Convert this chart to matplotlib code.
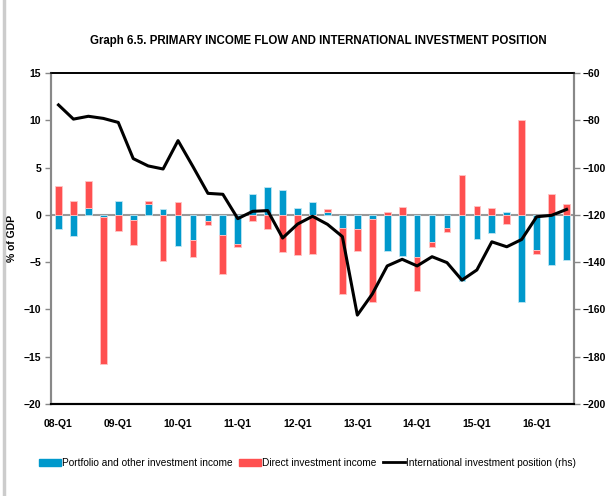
import matplotlib.pyplot as plt
import numpy as np
from matplotlib.lines import Line2D
from matplotlib.patches import Patch

plt.rcParams['font.family'] = ['DejaVu Sans Condensed', 'Liberation Sans Narrow', 'Liberation Sans']

years = ["08", "09", "10", "11", "12", "13", "14", "15", "16"]
quarters = [f"{y}-Q{q}" for y in years for q in range(1, 5)][:35]

portfolio = [-1.5, -2.2, 0.7, -0.2, 1.5, -0.5, 1.2, 0.6, -3.25,
             -2.7, -0.65, -2.1, -3.1, 2.2, 2.9, 2.6, 0.7,
             1.4, 0.3, -1.35, -1.5, -0.4, -3.8, -4.4, -4.45, -2.85,
             -1.35, -7.0, -2.5, -1.9, 0.35, -9.2, -3.7, -5.3, -4.8]
direct = [3.0, 1.5, 2.9, -15.6, -1.7, -2.7, 0.25, -4.9, 1.4,
          -1.8, -0.4, -4.2, -0.25, -0.7, -1.5, -3.9, -4.2,
          -4.1, 0.3, -7.0, -2.35, -8.8, 0.3, 0.8, -3.55, -0.6,
          -0.5, 4.2, 0.9, 0.7, -1.0, 10.0, -0.4, 2.25, 1.15]
iip = [-73.5, -79.5, -78.3, -79.2, -80.9, -96.2, -99.3, -100.6, -88.6,
       -99.6, -110.9, -111.3, -121.6, -118.5, -118.2, -129.8, -123.9,
       -120.6, -124.0, -129.2, -162.4, -153.5, -141.6, -138.8, -141.6, -137.7,
       -140.2, -147.6, -143.3, -131.4, -133.5, -130.4, -120.8, -120.2, -117.7]

BLUE = "#0099CC"
RED = "#FF5050"

x = np.arange(len(quarters))
p = np.array(portfolio)
d = np.array(direct)
# excel-style stacking: positives stack up, negatives stack down
d_bottom = np.where(d >= 0, np.maximum(p, 0), np.minimum(p, 0))

fig = plt.figure(figsize=(6.06, 4.96), dpi=100)
ax = fig.add_axes([0.0842, 0.1855, 0.8630, 0.6673])

ax.axhline(0, color="#999999", lw=1.5, zorder=1)
ax.bar(x, p, width=0.45, color=BLUE, edgecolor="#bfe6f3", linewidth=0.6, zorder=2)
ax.bar(x, d, width=0.45, bottom=d_bottom, color=RED, edgecolor="#ffc4c4", linewidth=0.6, zorder=2)

ax.set_xlim(-0.5, len(quarters) - 0.5)
ax.set_ylim(-20, 15)
ax.set_yticks(range(-20, 16, 5))
ax.set_xticks(x[::4])
ax.set_xticklabels(quarters[::4])
ax.tick_params(axis="x", length=0, pad=11, labelsize=7.5)
ax.tick_params(axis="y", length=4, width=1, color="#888888", labelsize=7.5, pad=3)
for lab in ax.get_xticklabels() + ax.get_yticklabels():
    lab.set_fontweight("bold")
ax.set_ylabel("% of GDP", fontsize=7.5, fontweight="bold")
ax.yaxis.set_label_coords(-0.066, 0.5)

ax2 = ax.twinx()
ax2.plot(x, iip, color="black", lw=2.2, zorder=3)
ax2.set_ylim(-200, -60)
ax2.set_yticks(range(-200, -59, 20))
ax2.tick_params(axis="y", length=4, width=1, color="#888888", labelsize=7.5, pad=2)
for lab in ax2.get_yticklabels():
    lab.set_fontweight("bold")

for a in (ax, ax2):
    a.spines["left"].set_color("#888888")
    a.spines["right"].set_color("#888888")
    a.spines["left"].set_linewidth(1.5)
    a.spines["right"].set_linewidth(1.5)
    a.spines["top"].set_color("black")
    a.spines["bottom"].set_color("black")
    a.spines["top"].set_linewidth(1.2)
    a.spines["bottom"].set_linewidth(1.5)
ax.set_zorder(ax2.get_zorder() - 1)
ax.patch.set_visible(False)

fig.suptitle("Graph 6.5. PRIMARY INCOME FLOW AND INTERNATIONAL INVESTMENT POSITION",
             x=0.526, y=0.93, fontsize=8.3, fontweight="bold")

handles = [Patch(color=BLUE), Patch(color=RED), Line2D([0], [0], color="black", lw=2)]
labels = ["Portfolio and other investment income", "Direct investment income",
          "International investment position (rhs)"]
fig.legend(handles, labels, loc="center", bbox_to_anchor=(0.507, 0.067), ncol=3,
           frameon=False, fontsize=7.3, handlelength=2.2, handletextpad=0.1,
           columnspacing=0.6)

fig.add_artist(Line2D([0.006, 0.006], [0, 1], color="#cccccc", lw=2.5,
                      transform=fig.transFigure))

fig.savefig("out.png", dpi=100)
